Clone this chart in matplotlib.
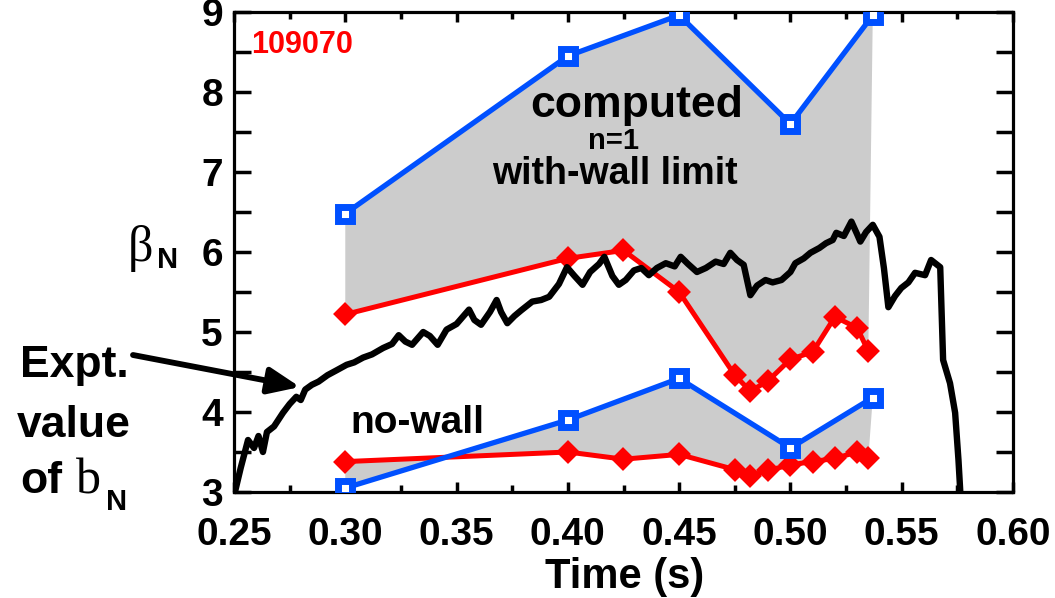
import numpy as np
import matplotlib
matplotlib.use("Agg")
import matplotlib.pyplot as plt
import matplotlib.ticker as ticker

plt.rcParams['font.family'] = ['Liberation Sans', 'DejaVu Sans']
plt.rcParams['font.weight'] = 'bold'

# experimental beta_N trace (shot 109070)
expt_t = [0.2500, 0.2530, 0.2563, 0.2590, 0.2610, 0.2630, 0.2648, 0.2680, 0.2720, 0.2750,
          0.2780, 0.2800, 0.2820, 0.2850, 0.2880, 0.2920, 0.2960, 0.3006, 0.3040, 0.3080,
          0.3120, 0.3170, 0.3210, 0.3240, 0.3270, 0.3300, 0.3350, 0.3380, 0.3415, 0.3455,
          0.3500, 0.3556, 0.3580, 0.3610, 0.3650, 0.3680, 0.3700, 0.3728, 0.3760, 0.3790,
          0.3840, 0.3880, 0.3916, 0.3960, 0.3996, 0.4030, 0.4066, 0.4100, 0.4140, 0.4164,
          0.4200, 0.4229, 0.4260, 0.4297, 0.4330, 0.4364, 0.4400, 0.4440, 0.4480, 0.4507,
          0.4540, 0.4580, 0.4620, 0.4664, 0.4700, 0.4730, 0.4760, 0.4790, 0.4820, 0.4850,
          0.4888, 0.4920, 0.4960, 0.5000, 0.5022, 0.5060, 0.5090, 0.5130, 0.5160, 0.5190,
          0.5206, 0.5240, 0.5274, 0.5300, 0.5314, 0.5340, 0.5370, 0.5400, 0.5420, 0.5440,
          0.5470, 0.5498, 0.5530, 0.5560, 0.5605, 0.5632, 0.5673, 0.5686, 0.5717, 0.5740,
          0.5755, 0.5762, 0.5765]
expt_bn = [2.95, 3.30, 3.65, 3.55, 3.70, 3.50, 3.75, 3.82, 3.99, 4.10,
           4.19, 4.15, 4.28, 4.34, 4.38, 4.46, 4.52, 4.59, 4.62, 4.68,
           4.72, 4.80, 4.85, 4.96, 4.88, 4.84, 5.00, 4.95, 4.84, 5.03,
           5.10, 5.28, 5.15, 5.09, 5.25, 5.40, 5.25, 5.11, 5.20, 5.27,
           5.38, 5.40, 5.44, 5.60, 5.81, 5.70, 5.59, 5.75, 5.85, 5.94,
           5.70, 5.59, 5.65, 5.77, 5.80, 5.71, 5.80, 5.86, 5.82, 5.94,
           5.85, 5.75, 5.80, 5.88, 5.85, 5.99, 5.90, 5.84, 5.46, 5.58,
           5.65, 5.62, 5.65, 5.75, 5.86, 5.92, 5.99, 6.05, 6.11, 6.15,
           6.24, 6.20, 6.38, 6.22, 6.13, 6.25, 6.34, 6.19, 5.80, 5.31,
           5.45, 5.55, 5.62, 5.74, 5.71, 5.90, 5.81, 4.65, 4.36, 3.99,
           3.40, 3.06, 2.90]

# computed limits, blue squares
blue_t = [0.30, 0.40, 0.45, 0.50, 0.537]
wall_blue = [6.48, 8.45, 8.96, 7.60, 8.96]
nowall_blue = [3.05, 3.90, 4.42, 3.55, 4.18]

# computed limits, red diamonds
red_t = [0.30, 0.40, 0.425, 0.45, 0.475, 0.482, 0.49, 0.50, 0.51, 0.52, 0.53, 0.535]
wall_red = [5.22, 5.92, 6.02, 5.50, 4.46, 4.26, 4.39, 4.66, 4.75, 5.19, 5.05, 4.76]
nowall_red = [3.38, 3.50, 3.41, 3.47, 3.28, 3.20, 3.27, 3.34, 3.38, 3.42, 3.50, 3.42]

xticks = [0.25, 0.30, 0.35, 0.40, 0.45, 0.50, 0.55, 0.60]
yticks = [3, 4, 5, 6, 7, 8, 9]

W, H = 1055, 598
fig = plt.figure(figsize=(W / 100, H / 100), dpi=100)
ax = fig.add_axes([234 / W, (H - 492) / H, 779 / W, 480 / H])


def px(x, y):
    return x / W, 1 - y / H


BLUE = '#0050ff'
RED = '#ff0000'
GREY = '#cccccc'

# shaded bands between blue and red curves
ax.fill(np.concatenate([blue_t, red_t[::-1]]), np.concatenate([wall_blue, wall_red[::-1]]),
        color=GREY, lw=0, zorder=1)
ax.fill(np.concatenate([blue_t, red_t[::-1]]), np.concatenate([nowall_blue, nowall_red[::-1]]),
        color=GREY, lw=0, zorder=1)

for yv in (wall_red, nowall_red):
    ax.plot(red_t, yv, color=RED, lw=3.6, marker='D', ms=9, mew=3,
            mfc=RED, mec=RED, zorder=2)

ax.plot(expt_t, expt_bn, color='black', lw=4.6, zorder=3)

for yv in (wall_blue, nowall_blue):
    ax.plot(blue_t, yv, color=BLUE, lw=3.8, marker='s', ms=10.5, mew=5,
            mfc='white', mec=BLUE, zorder=4)

ax.set_xlim(0.25, 0.60)
ax.set_ylim(3, 9)
ax.set_xticks(xticks)
ax.set_xticklabels(['%.2f' % v for v in xticks])
ax.set_yticks(yticks)
ax.xaxis.set_minor_locator(ticker.MultipleLocator(0.025))
ax.yaxis.set_minor_locator(ticker.MultipleLocator(0.5))
ax.tick_params(which='both', direction='in', top=True, right=True, width=2.5, labelsize=28)
ax.tick_params(axis='x', which='major', length=7, pad=18)
ax.tick_params(axis='x', which='minor', length=5)
ax.tick_params(axis='y', which='both', length=12, pad=8)
for s in ax.spines.values():
    s.set_linewidth(2.3)

fig.text(*px(625, 588), 'Time (s)', fontsize=30, ha='center', va='baseline')

# beta_N axis label
fig.text(*px(128, 261), '\u03b2', fontsize=36, family='Liberation Serif', weight='normal',
         va='baseline')
fig.text(*px(157, 268), 'N', fontsize=21, va='baseline')

fig.text(*px(251, 53), '109070', fontsize=22, color=RED, va='baseline')
fig.text(*px(637, 117), 'computed', fontsize=32, ha='center', va='baseline')
fig.text(*px(613, 149), 'n=1', fontsize=21, ha='center', va='baseline')
fig.text(*px(615, 184), 'with-wall limit', fontsize=27, ha='center', va='baseline')
fig.text(*px(417, 433), 'no-wall', fontsize=28, ha='center', va='baseline')

# experimental label on the left
fig.text(*px(74, 377), 'Expt.', fontsize=32, ha='center', va='baseline')
fig.text(*px(74, 437), 'value', fontsize=32, ha='center', va='baseline')
fig.text(*px(20, 493), 'of', fontsize=32, va='baseline')
fig.text(*px(76, 493), 'b', fontsize=36, family='Liberation Serif', weight='normal',
         va='baseline')
fig.text(*px(106, 510), 'N', fontsize=21, va='baseline')

ax.annotate('', xy=px(300, 387), xycoords='figure fraction',
            xytext=px(133, 355), textcoords='figure fraction',
            arrowprops=dict(arrowstyle='-|>,head_length=1.9,head_width=0.8',
                            color='black', lw=4.2, shrinkA=0, shrinkB=0))

fig.savefig('out.png', dpi=100)
